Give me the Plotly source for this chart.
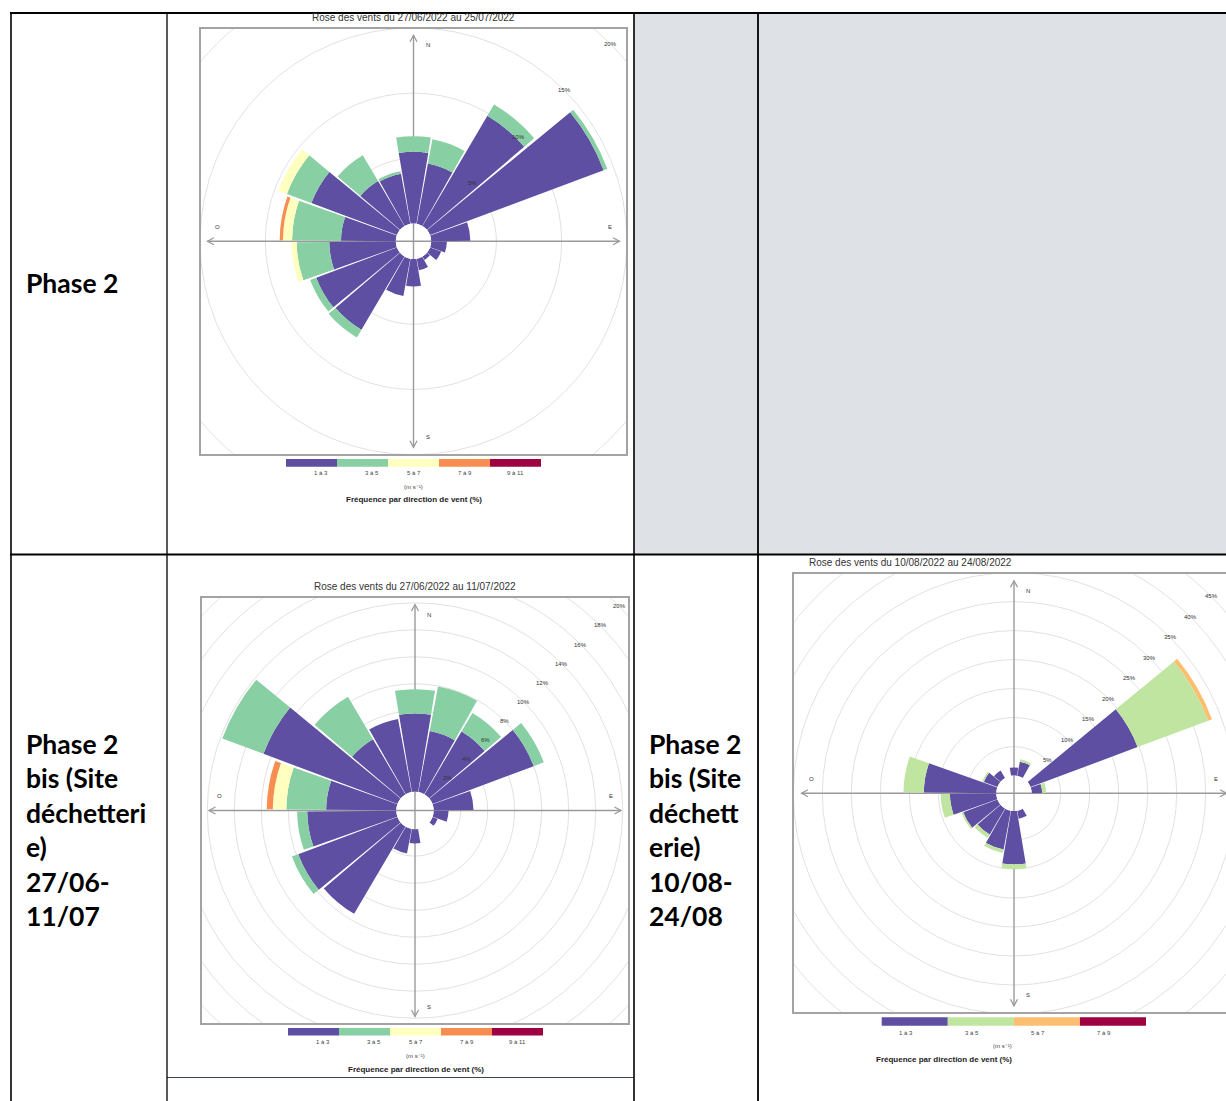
import plotly.graph_objects as go

W, H = 1226, 1101

# ---------------- data ----------------
directions = [0, 20, 40, 60, 80, 100, 120, 140, 160, 180, 200, 220, 240, 260, 280, 300, 320, 340]

speed_labels_5 = ["1 à 3", "3 à 5", "5 à 7", "7 à 9", "9 à 11"]
speed_labels_4 = ["1 à 3", "3 à 5", "5 à 7", "7 à 9"]

# Rose 1 : 27/06/2022 - 25/07/2022 (% of time, per direction and speed class)
r1_1a3 = [5.5, 4.7, 9.8, 14.2, 3.0, 1.2, 0.9, 0.3, 0.9, 2.1, 2.9, 6.5, 6.6, 5.1, 4.2, 7.0, 4.0, 3.9]
r1_3a5 = [1.2, 1.9, 1.0, 0.3, 0.0, 0.0, 0.0, 0.0, 0.0, 0.0, 0.0, 0.7, 0.5, 2.5, 3.75, 2.0, 2.3, 0.2]
r1_5a7 = [0.0, 0.0, 0.0, 0.0, 0.0, 0.0, 0.0, 0.0, 0.0, 0.0, 0.0, 0.0, 0.0, 0.4, 0.7, 0.7, 0.0, 0.0]
r1_7a9 = [0.0, 0.0, 0.0, 0.0, 0.0, 0.0, 0.0, 0.0, 0.0, 0.0, 0.0, 0.0, 0.0, 0.0, 0.25, 0.0, 0.0, 0.0]
r1_9a11 = [0.0] * 18
r1_ticks = [5, 10, 15, 20]

# Rose 2 : 27/06/2022 - 11/07/2022
r2_1a3 = [5.8, 4.6, 5.4, 8.0, 2.95, 1.1, 0.4, 0.0, 0.0, 1.05, 1.85, 7.5, 7.85, 6.6, 5.2, 10.6, 4.75, 5.5]
r2_3a5 = [1.8, 3.35, 1.6, 0.8, 0.0, 0.0, 0.0, 0.0, 0.0, 0.0, 0.0, 0.0, 0.5, 0.75, 2.95, 3.25, 3.65, 0.0]
r2_5a7 = [0.0, 0.0, 0.0, 0.0, 0.0, 0.0, 0.0, 0.0, 0.0, 0.0, 0.0, 0.0, 0.0, 0.0, 1.0, 0.0, 0.0, 0.0]
r2_7a9 = [0.0, 0.0, 0.0, 0.0, 0.0, 0.0, 0.0, 0.0, 0.0, 0.0, 0.0, 0.0, 0.0, 0.0, 0.45, 0.0, 0.0, 0.0]
r2_9a11 = [0.0] * 18
r2_ticks = [2, 4, 6, 8, 10, 12, 14, 16, 18, 20]

# Rose 3 : 10/08/2022 - 24/08/2022
r3_1a3 = [1.4, 2.5, 0.0, 19.7, 1.8, 0.0, 0.0, 0.0, 1.4, 9.2, 6.8, 5.2, 6.3, 8.0, 12.5, 2.5, 1.5, 0.0]
r3_3a5 = [0.0, 0.4, 0.0, 13.0, 0.7, 0.0, 0.0, 0.0, 0.0, 0.8, 0.6, 0.7, 0.3, 1.6, 3.5, 0.3, 0.0, 0.0]
r3_5a7 = [0.0, 0.0, 0.0, 0.7, 0.0, 0.0, 0.0, 0.0, 0.0, 0.0, 0.0, 0.0, 0.0, 0.0, 0.0, 0.0, 0.0, 0.0]
r3_7a9 = [0.0] * 18
r3_ticks = [5, 10, 15, 20, 25, 30, 35, 40, 45]

titles = ["Rose des vents du 27/06/2022 au 25/07/2022",
          "Rose des vents du 27/06/2022 au 11/07/2022",
          "Rose des vents du 10/08/2022 au 24/08/2022"]

row1_label = ["Phase 2"]
row2_label_a = ["Phase 2", "bis (Site", "déchetteri", "e)", "27/06-", "11/07"]
row2_label_b = ["Phase 2", "bis (Site", "déchett", "erie)", "10/08-", "24/08"]

compass = ["N", "E", "S", "O"]
unit_text = "(m s⁻¹)"
legend_title = "Fréquence par direction de vent (%)"

# ---------------- styles / geometry ----------------
palette5 = ["#5E4FA2", "#88CFA4", "#FFFFBF", "#F88D52", "#9E0142"]
palette4 = ["#5E4FA2", "#BFE5A0", "#FDBF6F", "#9E0142"]
FONT = "Liberation Sans, Arial, DejaVu Sans, sans-serif"
GRID = "#dedede"
AXC = "#9a9a9a"


def fx(x):
    return x / W


def fy(y):
    return 1 - y / H


roses = [
    dict(cx=413.5, cy=241.3, hw=212.5, hh=212.5, hole=17.7, k=13.05,
         series=[r1_1a3, r1_3a5, r1_5a7, r1_7a9, r1_9a11], colors=palette5,
         labels=speed_labels_5, ticks=r1_ticks, title=titles[0], title_y=17,
         leg=(286, 541, 459, 466.7), lab_y=472.5, unit_y=487, ft_y=499.5,
         arrow=206, lab_off=196),
    dict(cx=415, cy=810.5, hw=212.8, hh=212.8, hole=18.7, k=13.5,
         series=[r2_1a3, r2_3a5, r2_5a7, r2_7a9, r2_9a11], colors=palette5,
         labels=speed_labels_5, ticks=r2_ticks, title=titles[1], title_y=586,
         leg=(288, 543, 1028, 1035.5), lab_y=1042, unit_y=1055.5, ft_y=1069,
         arrow=206, lab_off=196),
    dict(cx=1014, cy=793.3, hw=220, hh=219, hole=17.7, k=5.8,
         series=[r3_1a3, r3_3a5, r3_5a7, r3_7a9], colors=palette4,
         labels=speed_labels_4, ticks=r3_ticks, title=titles[2], title_y=562,
         leg=(881.7, 1146, 1017.3, 1025.7), lab_y=1032.7, unit_y=1046, ft_y=1059,
         arrow=212.5, lab_off=202),
]

fig = go.Figure()
layout = dict(width=W, height=H, margin=dict(l=0, r=0, t=0, b=0),
              paper_bgcolor="white", plot_bgcolor="rgba(0,0,0,0)",
              showlegend=False)
shapes = []
annotations = []

# ---------------- table background / borders ----------------
GRAY = "#dee2e6"
shapes.append(dict(type="rect", xref="paper", yref="paper", x0=fx(634), x1=fx(1226),
                   y0=fy(554), y1=fy(13), fillcolor=GRAY, line_width=0, layer="below"))


def hline(y, x0, x1, w=2, color="black"):
    shapes.append(dict(type="line", xref="paper", yref="paper", x0=fx(x0), x1=fx(x1),
                       y0=fy(y), y1=fy(y), line=dict(color=color, width=w), layer="above"))


def vline(x, y0, y1, w=1.5, color="black"):
    shapes.append(dict(type="line", xref="paper", yref="paper", x0=fx(x), x1=fx(x),
                       y0=fy(y0), y1=fy(y1), line=dict(color=color, width=w), layer="above"))


hline(13, 10, 1226, 2)
hline(554.5, 10, 1226, 2)
hline(1077.5, 167, 634, 1.2, "#3c4650")
vline(11, 12, 1101, 1.6)
vline(167, 12, 1101, 1.3)
vline(634, 12, 1101, 1.6)
vline(758, 12, 1101, 1.8)

TXT = dict(family="Lato, sans-serif", size=26.5, color="black", weight="bold")
annotations.append(dict(xref="paper", yref="paper", x=fx(24), y=fy(283), text=row1_label[0],
                        showarrow=False, xanchor="left", yanchor="middle", font=TXT))
for i, t in enumerate(row2_label_a):
    annotations.append(dict(xref="paper", yref="paper", x=fx(24), y=fy(744 + 34.4 * i), text=t,
                            showarrow=False, xanchor="left", yanchor="middle", font=TXT))
for i, t in enumerate(row2_label_b):
    annotations.append(dict(xref="paper", yref="paper", x=fx(647), y=fy(744 + 34.4 * i), text=t,
                            showarrow=False, xanchor="left", yanchor="middle", font=TXT))

# ---------------- wind roses ----------------
for idx, ro in enumerate(roses):
    n = idx + 1
    sfx = "" if n == 1 else str(n)
    cx, cy, hw, hh = ro["cx"], ro["cy"], ro["hw"], ro["hh"]
    left, right = cx - hw, min(cx + hw, W)
    top, bottom = cy - hh, cy + hh
    xa, ya = "x" + sfx, "y" + sfx

    # cartesian frame (1 unit = 1 px, origin at rose centre)
    layout["xaxis" + sfx] = dict(domain=[fx(left), fx(right)], range=[left - cx, right - cx],
                                 anchor=ya, showgrid=False, zeroline=False, showticklabels=False,
                                 ticks="", showline=True, mirror=True, linecolor="#a3a3a3",
                                 linewidth=1.5, fixedrange=True)
    layout["yaxis" + sfx] = dict(domain=[fy(bottom), fy(top)], range=[cy - bottom, cy - top],
                                 anchor=xa, showgrid=False, zeroline=False, showticklabels=False,
                                 ticks="", showline=True, mirror=(n != 3), linecolor="#a3a3a3",
                                 linewidth=1.5, fixedrange=True)

    def rad(p, ro=ro):
        return ro["hole"] + ro["k"] * p

    # grid circles
    for t in ro["ticks"]:
        r = rad(t)
        shapes.append(dict(type="circle", xref=xa, yref=ya, x0=-r, x1=r, y0=-r, y1=r,
                           line=dict(color=GRID, width=0.9), layer="below"))
        d = r / 2 ** 0.5
        annotations.append(dict(xref=xa, yref=ya, x=d, y=d, text=f"{t}%", showarrow=False,
                                font=dict(family=FONT, size=6, color="#333")))
    # compass axes with open arrow heads
    a = ro["arrow"]
    shapes.append(dict(type="line", xref=xa, yref=ya, x0=0, x1=0, y0=-a, y1=a,
                       line=dict(color=AXC, width=1.4), layer="below"))
    shapes.append(dict(type="line", xref=xa, yref=ya, x0=-a, x1=a, y0=0, y1=0,
                       line=dict(color=AXC, width=1.4), layer="below"))
    hl, hwd = 6.5, 3.5
    heads = [
        f"M {-hwd},{a - hl} L 0,{a} L {hwd},{a - hl}",
        f"M {-hwd},{-a + hl} L 0,{-a} L {hwd},{-a + hl}",
        f"M {a - hl},{-hwd} L {a},0 L {a - hl},{hwd}",
        f"M {-a + hl},{-hwd} L {-a},0 L {-a + hl},{hwd}",
    ]
    for p in heads:
        shapes.append(dict(type="path", xref=xa, yref=ya, path=p,
                           line=dict(color=AXC, width=1.3), layer="below"))
    lo, so = ro["lab_off"], 14.3
    for lab, (lx, ly) in zip(compass, [(so, lo), (lo, so), (so, -lo), (-lo, so)]):
        annotations.append(dict(xref=xa, yref=ya, x=lx, y=ly, text=lab, showarrow=False,
                                font=dict(family=FONT, size=6, color="#333")))

    # polar bars
    R = min(212.0, W - cx)
    pol = "polar" + sfx
    layout[pol] = dict(domain=dict(x=[fx(cx - R), min(1.0, fx(cx + R))], y=[fy(cy + R), fy(cy - R)]),
                       hole=ro["hole"] / R, bgcolor="rgba(0,0,0,0)", barmode="stack", bargap=0,
                       radialaxis=dict(range=[0, (R - ro["hole"]) / ro["k"]], visible=False),
                       angularaxis=dict(rotation=90, direction="clockwise", visible=False))
    for vals, col, lab in zip(ro["series"], ro["colors"], ro["labels"]):
        fig.add_trace(go.Barpolar(r=vals, theta=directions, width=19.0, name=lab,
                                  marker=dict(color=col, line=dict(width=0)),
                                  subplot=pol, hoverinfo="skip"))

    # title
    annotations.append(dict(xref="paper", yref="paper", x=fx(cx), y=fy(ro["title_y"]),
                            text=ro["title"], showarrow=False, yanchor="middle",
                            font=dict(family=FONT, size=10, color="#333")))
    # colour key
    x0, x1, y0, y1 = ro["leg"]
    nseg = len(ro["colors"])
    seg = (x1 - x0) / nseg
    for i, (col, lab) in enumerate(zip(ro["colors"], ro["labels"])):
        shapes.append(dict(type="rect", xref="paper", yref="paper", x0=fx(x0 + i * seg),
                           x1=fx(x0 + (i + 1) * seg), y0=fy(y1), y1=fy(y0), fillcolor=col,
                           line_width=0, layer="above"))
        annotations.append(dict(xref="paper", yref="paper", x=fx(x0 + (i + 0.5) * seg),
                                y=fy(ro["lab_y"]), text=lab, showarrow=False, yanchor="middle",
                                font=dict(family=FONT, size=6, color="#444")))
    annotations.append(dict(xref="paper", yref="paper", x=fx((x0 + x1) / 2), y=fy(ro["unit_y"]),
                            text=unit_text, showarrow=False, yanchor="middle",
                            font=dict(family=FONT, size=6, color="#444")))
    annotations.append(dict(xref="paper", yref="paper", x=fx((x0 + x1) / 2), y=fy(ro["ft_y"]),
                            text=legend_title, showarrow=False, yanchor="middle",
                            font=dict(family=FONT, size=8, color="#222", weight="bold")))

layout["shapes"] = shapes
layout["annotations"] = annotations
fig.update_layout(**layout)
fig.write_html("out.html", config={"displayModeBar": False},
               post_script="document.body.style.margin='0';document.body.style.overflow='hidden';")
